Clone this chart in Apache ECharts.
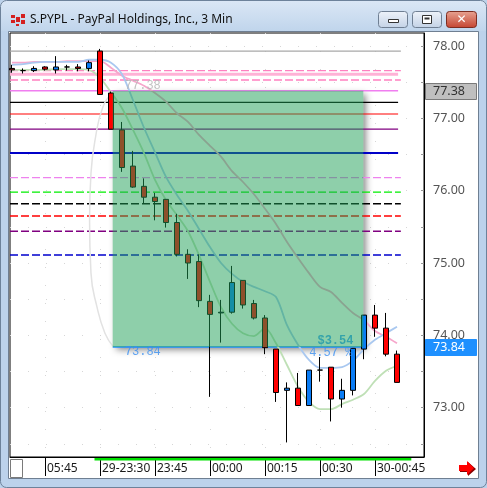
<!DOCTYPE html>
<html>
<head>
<meta charset="utf-8">
<script src="https://cdn.jsdelivr.net/npm/echarts@6/dist/echarts.min.js"></script>
<style>
  html, body { margin: 0; padding: 0; background: #bcd2eb; }
  #chart { width: 487px; height: 488px; }
</style>
</head>
<body>
<div id="chart"></div>
<script>
// ---- S.PYPL, 3-minute bars ----
const barTimes = ['05:36','05:39','05:42','05:45','05:48','05:51','05:54','05:57',
  '23:30','23:33','23:36','23:39','23:42','23:45','23:48','23:51','23:54','23:57',
  '00:00','00:03','00:06','00:09','00:12','00:15','00:18','00:21','00:24','00:27',
  '00:30','00:33','00:36','00:39','00:42','00:45','00:48','00:51'];

const opens  = [77.69,77.66,77.66,77.71,77.67,77.71,77.71,77.69,77.93,77.35,76.84,76.34,76.06,75.91,75.88,75.56,75.12,75.02,
                74.47,74.31,74.32,74.76,74.44,74.24,73.81,73.24,73.27,73.03,73.52,73.56,73.12,73.24,73.81,74.28,74.10,73.74];
const highs  = [77.74,77.69,77.72,77.72,77.86,77.74,77.75,77.80,77.96,77.37,76.95,76.55,76.17,75.97,75.88,75.68,75.19,75.12,
                74.56,74.49,74.96,74.76,74.49,74.28,73.81,73.35,73.48,73.52,73.70,73.56,73.40,73.82,74.28,74.42,74.31,73.79];
const lows   = [77.63,77.62,77.64,77.66,77.62,77.66,77.65,77.65,77.33,76.85,76.26,76.04,75.82,75.59,75.49,75.09,74.78,74.39,
                73.15,73.90,74.30,74.37,74.22,73.74,73.08,72.52,73.03,73.03,73.36,72.81,73.00,73.17,73.67,73.98,73.71,73.35];
const closes = [77.67,77.66,77.69,77.68,77.71,77.71,77.69,77.77,77.33,76.85,76.32,76.05,75.91,75.85,75.56,75.12,75.00,74.48,
                74.29,74.32,74.73,74.42,74.24,73.83,73.21,73.27,73.03,73.52,73.52,73.12,73.24,73.82,74.28,74.10,73.74,73.35];

// study lines, one value per bar
const blueLine  = [77.74,77.75,77.77,77.78,77.78,77.78,77.78,77.81,77.81,77.77,77.61,77.25,76.87,76.53,76.19,75.94,75.72,75.47,
                   75.22,75.00,74.85,74.74,74.67,74.61,74.53,74.14,73.87,73.66,73.55,73.55,73.56,73.65,73.81,73.94,74.03,74.12];
const greenLine = [77.67,77.67,77.67,77.67,77.68,77.68,77.68,77.67,77.56,77.36,77.14,76.84,76.52,76.15,75.87,75.66,75.44,75.11,
                   74.74,74.39,74.16,74.03,73.99,74.10,73.89,73.59,73.29,73.08,72.98,72.98,73.05,73.11,73.19,73.37,73.51,73.58];
const pinkLine  = [77.77,77.77,77.78,77.78,77.78,77.79,77.79,77.79,77.79,77.70,77.59,77.52,77.45,77.35,77.23,77.07,76.95,76.77,
                   76.62,76.47,76.27,76.12,75.95,75.75,75.54,75.29,75.07,74.86,74.67,74.60,74.45,74.31,74.21,74.06,73.98,73.89];

// horizontal levels
const solidLevels  = [77.93, 77.61, 77.38, 77.22, 77.06, 76.85, 76.52];
const dashedLevels = [77.66, 77.53, 76.18, 75.98, 75.82, 75.65, 75.44, 75.11];

// price-range box drawn between two bars
const boxStartBar = 9.155, boxEndBar = 31.94;
const boxTop = 77.38, boxBottom = 73.84;

// curved annotation on the left of the box
const arcBars   = [9.18, 8.27, 7.55, 7.18, 7.05, 7.18, 7.73, 8.45, 9.18];
const arcPrices = [77.36, 77.16, 76.70, 76.24, 75.60, 74.86, 74.39, 74.03, 73.85];

// axis ticks
const timeTickBars   = [3, 8, 13, 18, 23, 28, 33];
const timeTickLabels = ['05:45', '29-23:30', '23:45', '00:00', '00:15', '00:30', '30-00:45'];
const priceTicks     = [73, 74, 75, 76, 77, 78];
const priceMinorTicks = [72.5, 73, 73.5, 74, 74.5, 75, 75.5, 76, 76.5, 77, 77.5, 78];
const sessionBars = [7.5, 36.3];

// ---- styling ----
const uiFont = '"Noto Sans", "Open Sans", sans-serif';
const monoFont = '"Liberation Mono", "DejaVu Sans Mono", monospace';
const xMin = -2 / 11, xMax = 37.4545;
const yMin = 72.3185, yMax = 78.1797;
const solidEnd = 35.1, dashedEnd = 35.35;

const solidStyles = [
  { color: '#a8a8a8', width: 1.2, end: dashedEnd },
  { color: '#ffb2d6', width: 3,   end: solidEnd },
  { color: '#f07ef0', width: 1.5, end: solidEnd },
  { color: '#000000', width: 1.2, end: solidEnd },
  { color: '#ff0000', width: 1.2, end: solidEnd },
  { color: '#800080', width: 1.2, end: solidEnd },
  { color: '#0000c8', width: 2,   end: solidEnd }
];
const dashedColors = ['#ff80c0', '#ff80c0', '#ee82ee', '#00ee00', '#000000', '#ff0000', '#800080', '#0000cd'];

const chart = echarts.init(document.getElementById('chart'), null, { renderer: 'canvas' });

function flatLine(value, color, width, type, endBar, z) {
  return {
    type: 'line', silent: true, animation: false, symbol: 'none', z: z,
    data: [[xMin, value], [endBar, value]],
    lineStyle: { color: color, width: width, type: type }
  };
}

function textPoint(x, y, text, style, z) {
  return {
    type: 'scatter', silent: true, animation: false, z: z, symbolSize: 1,
    itemStyle: { color: 'rgba(0,0,0,0)' },
    data: [{ value: [x, y], label: Object.assign({ show: true, formatter: text, position: 'inside' }, style) }]
  };
}

const series = [];

// white base of the box carrying its drop shadow
series.push({
  type: 'line', silent: true, animation: false, symbol: 'none', z: 1,
  data: [[boxStartBar, boxTop]], lineStyle: { opacity: 0 },
  markArea: {
    silent: true, z: 1,
    itemStyle: { color: '#ffffff', shadowBlur: 7, shadowColor: 'rgba(0,0,0,0.5)', shadowOffsetX: 3, shadowOffsetY: 3 },
    data: [[{ coord: [boxStartBar, boxTop] }, { coord: [boxEndBar, boxBottom] }]]
  }
});

solidLevels.forEach((v, i) => {
  const s = solidStyles[i];
  series.push(flatLine(v, s.color, s.width, 'solid', s.end, 2));
});
dashedLevels.forEach((v, i) => {
  series.push(flatLine(v, dashedColors[i], 1.4, [8, 3], dashedEnd, 2));
});

// bottom edge of the box
series.push({
  type: 'line', silent: true, animation: false, symbol: 'none', z: 2,
  data: [[boxStartBar, boxBottom], [boxEndBar, boxBottom]],
  lineStyle: { color: '#1e90ff', width: 1.6 }
});

// curved annotation
series.push({
  type: 'line', silent: true, animation: false, symbol: 'none', z: 2, smooth: 0.5,
  data: arcBars.map((b, i) => [b, arcPrices[i]]),
  lineStyle: { color: '#e2e2e2', width: 1.5 }
});

// study lines
[[pinkLine, '#f6a6cb'], [greenLine, '#bfe0b6'], [blueLine, '#a9c8f0']].forEach(([arr, color]) => {
  series.push({
    type: 'line', silent: true, animation: false, symbol: 'none', z: 3, smooth: 0.3,
    data: arr.map((v, i) => [i, v]),
    lineStyle: { color: color, width: 1.8 }
  });
});

// candles
series.push({
  type: 'candlestick', silent: true, animation: false, z: 4, barWidth: 5,
  data: opens.map((o, i) => [i, o, closes[i], lows[i], highs[i]]),
  itemStyle: {
    color: '#0a7cf5', color0: '#ff0000',
    borderColor: '#000000', borderColor0: '#000000', borderColorDoji: '#000000', borderWidth: 1
  }
});

const change = boxTop - boxBottom;
const changePct = change / boxTop * 100;

// dollar change, drawn under the box tint
series.push(textPoint(boxEndBar - 0.9, boxBottom + 0.08, '$' + change.toFixed(2),
  { align: 'right', verticalAlign: 'middle', color: '#1e90ff', fontFamily: monoFont, fontWeight: 'bold', fontSize: 12 }, 4));

// green tint of the box
series.push({
  type: 'line', silent: true, animation: false, symbol: 'none', z: 10,
  data: [[boxStartBar, boxTop]], lineStyle: { opacity: 0 },
  markArea: {
    silent: true, z: 10,
    itemStyle: { color: 'rgba(30,160,85,0.5)' },
    data: [[{ coord: [boxStartBar, boxTop] }, { coord: [boxEndBar, boxBottom] }]]
  }
});

series.push(textPoint(boxStartBar + 1.1, boxTop + 0.065, boxTop.toFixed(2),
  { align: 'left', verticalAlign: 'middle', color: '#b4b4b4', fontFamily: monoFont, fontSize: 12 }, 11));
series.push(textPoint(boxStartBar + 1.1, boxBottom - 0.07, boxBottom.toFixed(2),
  { align: 'left', verticalAlign: 'middle', color: '#3a8ff0', fontFamily: monoFont, fontSize: 12 }, 11));
series.push(textPoint(boxEndBar - 1.0, boxBottom - 0.085, changePct.toFixed(2) + ' %',
  { align: 'right', verticalAlign: 'middle', color: '#3a8ff0', fontFamily: monoFont, fontSize: 12 }, 11));

chart.setOption({
  backgroundColor: 'transparent',
  animation: false,
  grid: { left: 10, top: 33, width: 414, height: 424, show: true, borderColor: '#000', borderWidth: 1, backgroundColor: '#fff', containLabel: false },
  xAxis: {
    type: 'value', min: xMin, max: xMax, position: 'bottom',
    axisLine: { show: true, onZero: false, lineStyle: { color: '#000', width: 1 } },
    axisTick: { show: true, customValues: timeTickBars, length: 19, lineStyle: { color: '#000' } },
    axisLabel: {
      customValues: timeTickBars,
      formatter: v => timeTickLabels[timeTickBars.indexOf(v)],
      align: 'left', padding: [0, 0, 0, 2], margin: 6,
      color: '#1a1a1a', fontSize: 12, fontFamily: uiFont
    },
    splitLine: { show: true, lineStyle: { color: '#d6d6d6', type: [1, 17] } }
  },
  yAxis: {
    type: 'value', position: 'right', min: yMin, max: yMax,
    axisLine: { show: true, onZero: false, lineStyle: { color: '#000', width: 1 } },
    axisTick: { show: true, inside: true, length: 3, customValues: priceMinorTicks, lineStyle: { color: '#999' } },
    axisLabel: {
      customValues: priceTicks, formatter: v => v.toFixed(2), margin: 9,
      color: '#555', fontSize: 12.5, fontFamily: uiFont
    },
    splitLine: { show: true, lineStyle: { color: '#d6d6d6', type: [1, 17] } }
  },
  series: series
});

// ---- window frame, price tags and session bar ----
const px = v => chart.convertToPixel({ xAxisIndex: 0 }, v);
const py = v => chart.convertToPixel({ yAxisIndex: 0 }, v);

const gfx = [];
// client area
gfx.push({ type: 'rect', z: -10, shape: { x: 8.5, y: 31.5, width: 470, height: 447 }, style: { fill: '#ffffff', stroke: '#6f7f92', lineWidth: 1 } });
// title bar
gfx.push({ type: 'rect', z: 0, shape: { x: 0, y: 0, width: 487, height: 31, r: [6, 6, 0, 0] },
  style: { fill: new echarts.graphic.LinearGradient(0, 0, 0, 1, [{ offset: 0, color: '#dbe7f5' }, { offset: 1, color: '#c0d5ec' }]) } });
gfx.push({ type: 'rect', z: 0, shape: { x: 0.5, y: 0.5, width: 486, height: 487, r: 6 }, style: { fill: 'none', stroke: '#6d829a', lineWidth: 1 } });
// icon
[[11, 15, 4, 3], [11, 20, 4, 3], [16, 17, 4, 5], [21, 14, 4, 4], [21, 20, 4, 4], [16, 24, 3, 2]].forEach(r => {
  gfx.push({ type: 'rect', z: 1, shape: { x: r[0], y: r[1], width: r[2], height: r[3] }, style: { fill: '#d42020' } });
});
gfx.push({ type: 'text', z: 1, style: { x: 30, y: 20, text: 'S.PYPL - PayPal Holdings, Inc., 3 Min', font: '12px ' + uiFont, fill: '#111', verticalAlign: 'middle' } });
// caption buttons
const btnFill = new echarts.graphic.LinearGradient(0, 0, 0, 1, [{ offset: 0, color: '#eef3fa' }, { offset: 1, color: '#c3d2e6' }]);
gfx.push({ type: 'rect', z: 1, shape: { x: 378.5, y: 11.5, width: 29, height: 16, r: 3 }, style: { fill: btnFill, stroke: '#6f7f93' } });
gfx.push({ type: 'rect', z: 2, shape: { x: 388.5, y: 19.5, width: 10, height: 3 }, style: { fill: '#fff', stroke: '#333' } });
gfx.push({ type: 'rect', z: 1, shape: { x: 412.5, y: 11.5, width: 29, height: 16, r: 3 }, style: { fill: btnFill, stroke: '#6f7f93' } });
gfx.push({ type: 'rect', z: 2, shape: { x: 422.5, y: 15.5, width: 9, height: 8 }, style: { fill: '#fff', stroke: '#333', lineWidth: 1 } });
gfx.push({ type: 'rect', z: 2, shape: { x: 424.5, y: 17.5, width: 5, height: 2 }, style: { fill: '#333' } });
gfx.push({ type: 'rect', z: 1, shape: { x: 446.5, y: 11.5, width: 30, height: 16, r: 3 },
  style: { fill: new echarts.graphic.LinearGradient(0, 0, 0, 1, [{ offset: 0, color: '#e8a493' }, { offset: 1, color: '#c4432f' }]), stroke: '#7d2c20' } });
gfx.push({ type: 'text', z: 2, style: { x: 461.5, y: 19.5, text: '✕', font: 'bold 12px "DejaVu Sans", sans-serif', fill: '#fff', align: 'center', verticalAlign: 'middle' } });
// small box at bottom-left
gfx.push({ type: 'rect', z: 5, shape: { x: 10.5, y: 459.5, width: 12, height: 18 }, style: { fill: '#fff', stroke: '#7a7a7a' } });
// red arrow at bottom-right
gfx.push({ type: 'polygon', z: 5, shape: { points: [[460, 466], [468, 466], [468, 462], [476, 469], [468, 476], [468, 472], [460, 472]] }, style: { fill: '#8b0000' } });
gfx.push({ type: 'polygon', z: 6, shape: { points: [[459, 465], [467, 465], [467, 461], [474, 468], [467, 475], [467, 471], [459, 471]] }, style: { fill: '#ff0000' } });
// session bar under the plot
const sx0 = px(sessionBars[0]), sx1 = px(sessionBars[1]);
gfx.push({ type: 'rect', z: 20, shape: { x: sx0, y: 458, width: sx1 - sx0, height: 2.5 }, style: { fill: '#00e000' } });
// price tags on the axis
function tag(value, fill, stroke, textColor) {
  const y = py(value);
  gfx.push({ type: 'rect', z: 20, shape: { x: 425.5, y: Math.round(y) - 7.5, width: 51, height: 16 }, style: { fill: fill, stroke: stroke } });
  gfx.push({ type: 'text', z: 21, style: { x: 433, y: Math.round(y) + 0.5, text: value.toFixed(2), font: '12.5px ' + uiFont, fill: textColor, verticalAlign: 'middle' } });
}
tag(boxTop, '#bfbfbf', '#7a7a7a', '#333');
tag(boxBottom, '#1e90ff', '#1e90ff', '#ffffff');

chart.setOption({ graphic: { elements: gfx } });
</script>
</body>
</html>
